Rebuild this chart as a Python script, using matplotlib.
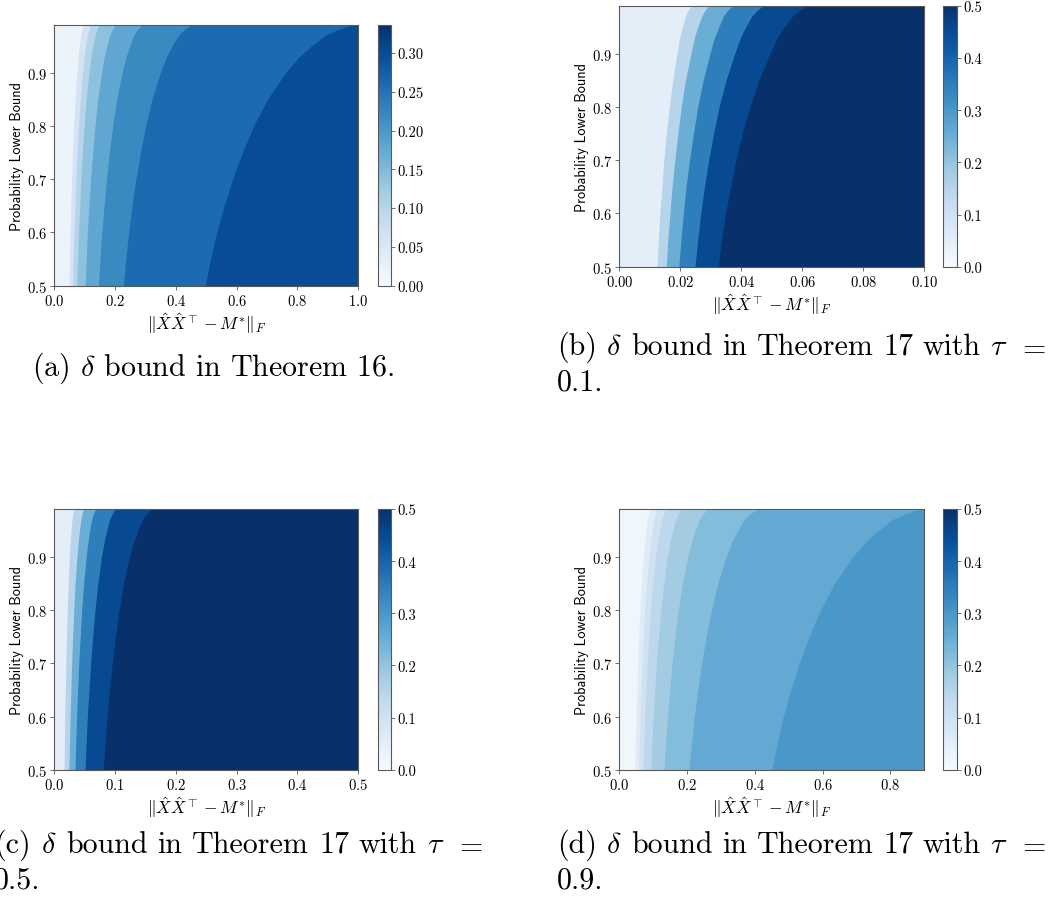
import matplotlib.pyplot as plt
from matplotlib import cm, colors

plt.rcParams['font.family'] = 'cmr10'
plt.rcParams['mathtext.fontset'] = 'cm'
plt.rcParams['axes.formatter.use_mathtext'] = True
plt.rcParams['axes.unicode_minus'] = False

# probability levels at which the contour boundaries were traced
prob = [0.5, 0.55, 0.6, 0.65, 0.7, 0.75, 0.8, 0.85, 0.9, 0.93, 0.95, 0.97,
        0.98, 0.99]

# (a) Theorem 16
xmax_a = 1.0
vmax_a = 0.336
lev_a = [0.02, 0.06, 0.10, 0.14, 0.18, 0.22, 0.26, 0.30]
bnd_a = [
    [0.049, 0.0507, 0.0527, 0.0551, 0.0578, 0.0610, 0.0647, 0.0691, 0.0750,
     0.0794, 0.0833, 0.0877, 0.0914, 0.0965],
    [0.061, 0.0631, 0.0656, 0.0686, 0.0720, 0.0759, 0.0805, 0.0860, 0.0933,
     0.0988, 0.1037, 0.1092, 0.1138, 0.1202],
    [0.075, 0.0776, 0.0806, 0.0844, 0.0885, 0.0934, 0.0990, 0.1058, 0.1148,
     0.1215, 0.1275, 0.1343, 0.1399, 0.1478],
    [0.102, 0.1056, 0.1097, 0.1148, 0.1204, 0.1270, 0.1346, 0.1438, 0.1561,
     0.1652, 0.1734, 0.1826, 0.1902, 0.2009],
    [0.146, 0.1511, 0.1570, 0.1643, 0.1723, 0.1818, 0.1927, 0.2059, 0.2234,
     0.2365, 0.2482, 0.2613, 0.2723, 0.2876],
    [0.228, 0.2360, 0.2451, 0.2565, 0.2690, 0.2839, 0.3010, 0.3215, 0.3488,
     0.3694, 0.3876, 0.4081, 0.4252, 0.4492],
    [0.497, 0.5144, 0.5343, 0.5591, 0.5865, 0.6188, 0.6560, 0.7008, 0.7604,
     0.8051, 0.8449, 0.8896, 0.9269, 0.9791],
]

# (b) Theorem 17, tau = 0.1
xmax_b = 0.1
vmax_b = 0.5
lev_b = [0.05, 0.15, 0.25, 0.35, 0.45, 0.55]
bnd_b = [
    [0.0124, 0.0128, 0.0133, 0.0140, 0.0146, 0.0154, 0.0164, 0.0175, 0.0189,
     0.0198, 0.0207, 0.0217, 0.0224, 0.0236],
    [0.0154, 0.0159, 0.0166, 0.0173, 0.0182, 0.0192, 0.0203, 0.0217, 0.0235,
     0.0246, 0.0257, 0.0270, 0.0279, 0.0293],
    [0.0195, 0.0202, 0.0210, 0.0219, 0.0230, 0.0243, 0.0257, 0.0275, 0.0297,
     0.0312, 0.0326, 0.0341, 0.0353, 0.0371],
    [0.0248, 0.0257, 0.0267, 0.0279, 0.0293, 0.0309, 0.0327, 0.0350, 0.0378,
     0.0397, 0.0414, 0.0434, 0.0449, 0.0471],
    [0.0324, 0.0335, 0.0348, 0.0365, 0.0382, 0.0403, 0.0428, 0.0457, 0.0494,
     0.0518, 0.0541, 0.0567, 0.0586, 0.0616],
]

# (c) Theorem 17, tau = 0.5
xmax_c = 0.5
vmax_c = 0.5
lev_c = [0.05, 0.15, 0.25, 0.35, 0.45, 0.55]
bnd_c = [
    [0.0165, 0.0171, 0.0177, 0.0186, 0.0195, 0.0205, 0.0218, 0.0233, 0.0252,
     0.0267, 0.0281, 0.0295, 0.0308, 0.0325],
    [0.0246, 0.0255, 0.0264, 0.0277, 0.0290, 0.0306, 0.0325, 0.0347, 0.0376,
     0.0399, 0.0418, 0.0440, 0.0459, 0.0485],
    [0.0345, 0.0357, 0.0371, 0.0388, 0.0407, 0.0430, 0.0455, 0.0486, 0.0528,
     0.0559, 0.0587, 0.0618, 0.0643, 0.0680],
    [0.0510, 0.0528, 0.0548, 0.0574, 0.0602, 0.0635, 0.0673, 0.0719, 0.0780,
     0.0826, 0.0867, 0.0913, 0.0951, 0.1005],
    [0.0810, 0.0838, 0.0871, 0.0911, 0.0956, 0.1008, 0.1069, 0.1142, 0.1239,
     0.1312, 0.1377, 0.1450, 0.1511, 0.1596],
]

# (d) Theorem 17, tau = 0.9
xmax_d = 0.9
vmax_d = 0.5
lev_d = [0.02, 0.06, 0.10, 0.14, 0.18, 0.22, 0.26, 0.30]
bnd_d = [
    [0.046, 0.0476, 0.0495, 0.0518, 0.0543, 0.0573, 0.0607, 0.0649, 0.0704,
     0.0745, 0.0782, 0.0823, 0.0858, 0.0906],
    [0.057, 0.0590, 0.0613, 0.0641, 0.0673, 0.0710, 0.0752, 0.0804, 0.0872,
     0.0923, 0.0969, 0.1020, 0.1063, 0.1123],
    [0.070, 0.0725, 0.0753, 0.0788, 0.0826, 0.0872, 0.0924, 0.0987, 0.1071,
     0.1134, 0.1190, 0.1253, 0.1306, 0.1379],
    [0.093, 0.0963, 0.1000, 0.1046, 0.1097, 0.1158, 0.1228, 0.1311, 0.1423,
     0.1507, 0.1581, 0.1665, 0.1734, 0.1832],
    [0.132, 0.1366, 0.1419, 0.1485, 0.1558, 0.1643, 0.1742, 0.1861, 0.2020,
     0.2138, 0.2244, 0.2363, 0.2462, 0.2600],
    [0.206, 0.2132, 0.2215, 0.2318, 0.2431, 0.2565, 0.2719, 0.2905, 0.3152,
     0.3337, 0.3502, 0.3687, 0.3842, 0.4058],
    [0.450, 0.4658, 0.4838, 0.5063, 0.5310, 0.5603, 0.5940, 0.6345, 0.6885,
     0.7290, 0.7650, 0.8055, 0.8393, 0.8865],
]

xlab = r'$\Vert\hat{X}\hat{X}^{\top} - M^{*}\Vert_F$'
ylab = 'Probability Lower Bound'
cmap = plt.get_cmap('Blues')
edge = '0.35'


def panel(fig, rect, crect, xmax, lev, bnd, vmax, xticks, cticks, cfmt):
    ax = fig.add_axes(rect)
    cax = fig.add_axes(crect)
    norm = colors.Normalize(vmin=0, vmax=vmax)
    # each band is painted from its left boundary to the right edge
    ax.fill_betweenx(prob, 0, xmax, color=cmap(norm(lev[0])), lw=0)
    for val, xb in zip(lev[1:], bnd):
        ax.fill_betweenx(prob, xb, xmax, color=cmap(norm(val)), lw=0)
    ax.set_xlim(0, xmax)
    ax.set_ylim(0.5, 0.99)
    ax.set_xticks(xticks)
    ax.set_yticks([0.5, 0.6, 0.7, 0.8, 0.9])
    ax.tick_params(labelsize=10.5, length=3, width=0.6, color=edge, pad=2)
    for s in ax.spines.values():
        s.set_color(edge)
        s.set_linewidth(0.8)
    ax.set_xlabel(xlab, fontsize=12.5, labelpad=2)
    ax.set_ylabel(ylab, fontsize=10.3, family='cmss10', labelpad=2)

    cb = fig.colorbar(cm.ScalarMappable(norm=norm, cmap=cmap), cax=cax,
                      ticks=cticks, format=cfmt)
    cb.outline.set_edgecolor(edge)
    cb.outline.set_linewidth(0.8)
    cax.tick_params(labelsize=10.5, length=3, width=0.6, color=edge, pad=2)
    return ax


W, H = 1055.0, 903.0
cap = 21.6


def justified(fig, words, x0, x1, y):
    # spread the words of a full caption line between x0 and x1 (pixels)
    r = fig.canvas.get_renderer()
    txts = [fig.text(0, 1 - y / H, w, fontsize=cap, ha='left', va='center')
            for w in words]
    widths = [t.get_window_extent(r).width for t in txts]
    gap = (x1 - x0 - sum(widths)) / (len(words) - 1)
    x = x0
    for t, w in zip(txts, widths):
        t.set_x(x / W)
        x += w + gap


fig = plt.figure(figsize=(10.55, 9.03), dpi=100)

panel(fig, [0.0512, 0.6825, 0.2884, 0.2887], [0.358, 0.6825, 0.0123, 0.2887],
      xmax_a, lev_a, bnd_a, vmax_a, [0, 0.2, 0.4, 0.6, 0.8, 1.0],
      [0, 0.05, 0.10, 0.15, 0.20, 0.25, 0.30], '%.2f')
panel(fig, [0.587, 0.7035, 0.2891, 0.2890], [0.8941, 0.7035, 0.0127, 0.2890],
      xmax_b, lev_b, bnd_b, vmax_b, [0, 0.02, 0.04, 0.06, 0.08, 0.10],
      [0, 0.1, 0.2, 0.3, 0.4, 0.5], '%.1f')
panel(fig, [0.0512, 0.1465, 0.2884, 0.2887], [0.358, 0.1465, 0.0123, 0.2887],
      xmax_c, lev_c, bnd_c, vmax_c, [0, 0.1, 0.2, 0.3, 0.4, 0.5],
      [0, 0.1, 0.2, 0.3, 0.4, 0.5], '%.1f')
panel(fig, [0.587, 0.1465, 0.2891, 0.2887], [0.8941, 0.1465, 0.0127, 0.2887],
      xmax_d, lev_d, bnd_d, vmax_d, [0, 0.2, 0.4, 0.6, 0.8],
      [0, 0.1, 0.2, 0.3, 0.4, 0.5], '%.1f')

# sub-figure captions
fig.text(213 / W, 1 - 368 / H, r'(a) $\delta$ bound in Theorem 16.',
         fontsize=cap, ha='center', va='center')


def caption(tag):
    return ['(%s)' % tag, r'$\delta$', 'bound', 'in', 'Theorem', '17',
            'with', r'$\tau$', r'$=$']


justified(fig, caption('b'), 557, 1046, 347)
fig.text(557 / W, 1 - 383 / H, '0.1.', fontsize=cap, ha='left', va='center')
justified(fig, caption('c'), -6, 483, 845)
fig.text(-6 / W, 1 - 881 / H, '0.5.', fontsize=cap, ha='left', va='center')
justified(fig, caption('d'), 557, 1046, 845)
fig.text(557 / W, 1 - 881 / H, '0.9.', fontsize=cap, ha='left', va='center')

fig.savefig('out.png', dpi=100)
